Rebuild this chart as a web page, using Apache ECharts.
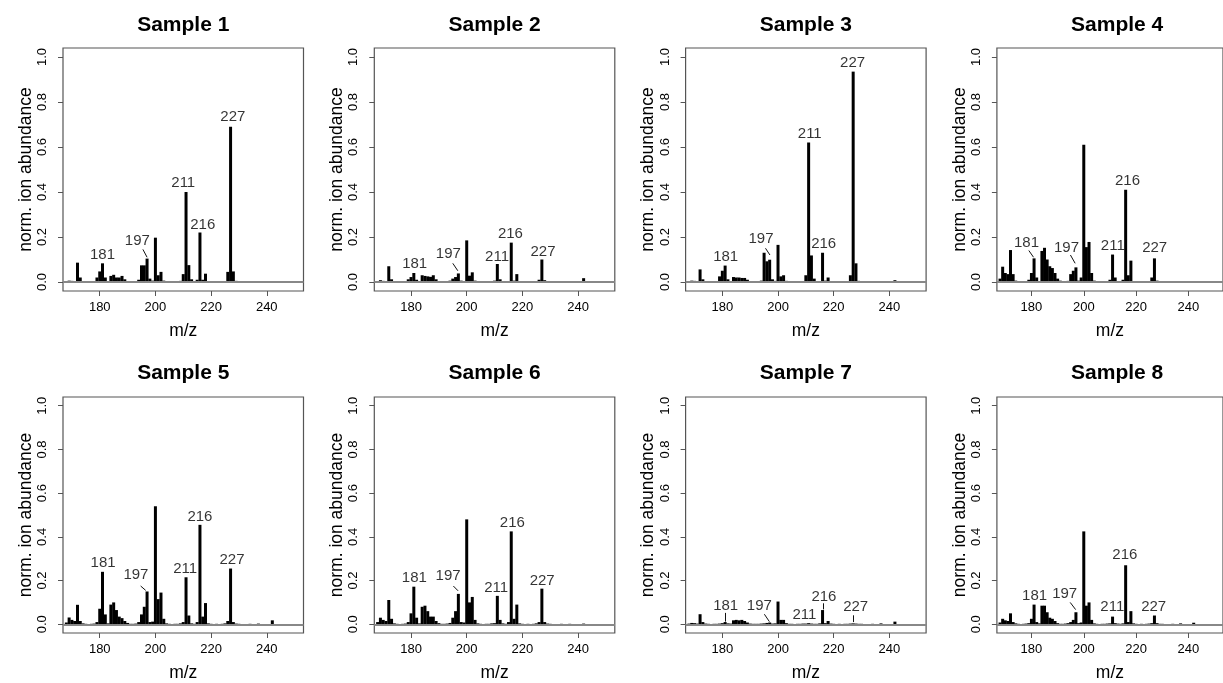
<!DOCTYPE html>
<html><head><meta charset="utf-8">
<script src="https://cdn.jsdelivr.net/npm/echarts@6/dist/echarts.min.js"></script>
<style>html,body{margin:0;padding:0;background:#fff}#c{width:1223px;height:683px}</style>
</head><body><div id="c"></div>
<script>
// m/z values (integer masses)
const mz = [168,169,170,171,172,173,174,175,176,177,
            178,179,180,181,182,183,184,185,186,187,
            188,189,190,191,192,193,194,195,196,197,
            198,199,200,201,202,203,204,205,206,207,
            208,209,210,211,212,213,214,215,216,217,
            218,219,220,221,222,223,224,225,226,227,
            228,229,230,231,232,233,234,235,236,237,
            238,239,240,241,242,243];

const sample1 = [0.004,0.006,0.005,0.003,0.086,0.02,0.003,0.002,0,0.002,
  0.003,0.02,0.047,0.083,0.02,0.004,0.027,0.032,0.02,0.02,
  0.027,0.012,0.004,0.002,0.002,0.003,0.01,0.074,0.074,0.104,
  0.015,0.006,0.197,0.03,0.045,0.006,0.002,0.002,0,0.002,
  0.003,0.005,0.035,0.40,0.075,0.012,0.003,0.01,0.22,0.01,
  0.037,0.004,0.002,0,0.002,0,0.003,0.004,0.045,0.69,
  0.047,0.005,0.002,0,0,0,0.002,0,0,0.003,
  0,0,0,0,0.004,0];
const sample2 = [0.003,0.008,0.005,0.004,0.07,0.012,0.003,0.002,0,0.002,
  0.003,0.012,0.022,0.04,0.01,0.003,0.03,0.027,0.025,0.023,
  0.03,0.012,0.004,0.002,0.002,0.003,0.006,0.015,0.022,0.038,
  0.006,0.004,0.185,0.028,0.043,0.006,0.002,0.002,0,0.002,
  0.002,0.003,0.006,0.08,0.012,0.003,0.002,0.004,0.175,0.006,
  0.035,0.004,0.002,0,0.002,0,0.002,0.003,0.01,0.10,
  0.008,0.003,0.002,0,0,0,0.002,0,0,0.003,
  0,0.002,0,0,0.017,0.002];
const sample3 = [0.003,0.006,0.005,0.004,0.056,0.012,0.003,0.002,0,0.002,
  0.003,0.025,0.05,0.073,0.012,0.003,0.022,0.02,0.02,0.018,
  0.018,0.01,0.004,0.002,0.002,0.003,0.006,0.13,0.092,0.099,
  0.012,0.005,0.165,0.025,0.03,0.005,0.002,0.002,0,0.002,
  0.002,0.004,0.03,0.62,0.118,0.015,0.003,0.004,0.13,0.006,
  0.02,0.004,0.002,0,0.002,0,0.002,0.004,0.03,0.935,
  0.083,0.005,0.002,0,0,0,0.002,0,0,0.003,
  0,0,0,0,0.008,0];
const sample4 = [0.015,0.068,0.04,0.035,0.142,0.035,0.006,0.002,0,0.002,
  0.003,0.01,0.04,0.105,0.02,0.004,0.138,0.152,0.10,0.07,
  0.062,0.04,0.015,0.006,0.002,0.003,0.005,0.035,0.05,0.065,
  0.006,0.02,0.61,0.155,0.178,0.04,0.006,0.002,0,0.002,
  0.002,0.004,0.01,0.122,0.02,0.004,0.002,0.01,0.41,0.03,
  0.095,0.004,0.002,0,0.002,0,0.002,0.004,0.02,0.105,
  0.006,0.003,0.002,0,0,0,0.002,0,0,0.003,
  0,0,0,0,0.003,0];
const sample5 = [0.008,0.031,0.02,0.015,0.089,0.015,0.004,0.002,0,0.002,
  0.003,0.01,0.071,0.24,0.045,0.004,0.09,0.10,0.065,0.035,
  0.028,0.015,0.006,0.002,0.002,0.003,0.01,0.045,0.08,0.15,
  0.01,0.012,0.54,0.115,0.145,0.025,0.004,0.002,0,0.002,
  0.002,0.004,0.01,0.215,0.04,0.004,0.002,0.01,0.455,0.035,
  0.097,0.004,0.002,0,0.002,0,0.002,0.004,0.015,0.255,
  0.01,0.003,0.002,0,0,0,0.002,0,0,0.003,
  0,0,0,0,0.018,0];
const sample6 = [0.01,0.03,0.02,0.015,0.111,0.025,0.004,0.002,0,0.002,
  0.003,0.01,0.05,0.172,0.03,0.004,0.08,0.085,0.06,0.035,
  0.035,0.015,0.005,0.002,0.002,0.003,0.006,0.03,0.06,0.139,
  0.01,0.008,0.48,0.10,0.125,0.02,0.004,0.002,0,0.002,
  0.002,0.004,0.005,0.13,0.02,0.004,0.002,0.01,0.425,0.025,
  0.09,0.004,0.002,0,0.002,0,0.002,0.004,0.01,0.163,
  0.01,0.003,0.002,0,0,0,0.002,0,0,0.002,
  0,0,0,0,0.003,0];
const sample7 = [0.003,0.006,0.005,0.003,0.046,0.01,0.003,0.002,0,0.002,
  0.002,0.003,0.005,0.01,0.004,0.003,0.018,0.02,0.018,0.02,
  0.015,0.008,0.003,0.002,0.002,0.002,0.003,0.004,0.006,0.008,
  0.003,0.004,0.104,0.02,0.02,0.005,0.002,0.002,0,0.002,
  0.002,0.003,0.003,0.005,0.003,0.002,0.002,0.004,0.065,0.005,
  0.015,0.003,0.002,0,0.002,0,0.002,0.002,0.003,0.004,
  0.003,0.002,0.002,0,0,0,0.002,0,0,0.004,
  0,0,0,0,0.012,0];
const sample8 = [0.008,0.025,0.018,0.015,0.05,0.01,0.004,0.002,0,0.002,
  0.003,0.005,0.025,0.09,0.01,0.004,0.085,0.085,0.055,0.03,
  0.025,0.015,0.005,0.002,0.002,0.003,0.005,0.01,0.02,0.055,
  0.005,0.008,0.425,0.085,0.10,0.02,0.004,0.002,0,0.002,
  0.002,0.003,0.004,0.035,0.005,0.003,0.002,0.004,0.27,0.01,
  0.06,0.004,0.002,0,0.002,0,0.002,0.003,0.005,0.04,
  0.005,0.002,0.002,0,0,0,0.002,0,0,0.004,
  0,0,0,0,0.007,0];

const sampleNames = ['Sample 1','Sample 2','Sample 3','Sample 4','Sample 5','Sample 6','Sample 7','Sample 8'];
const peakNames = ['181','197','211','216','227'];

// label anchor points (data units: m/z, abundance) for the five annotated peaks
const labels1 = [[181,0.12],[193.5,0.185],[210,0.442],[217,0.254],[227.8,0.733]];
const labels2 = [[181.3,0.079],[193.4,0.123],[210.9,0.113],[215.7,0.212],[227.4,0.135]];
const labels3 = [[181.2,0.113],[193.9,0.19],[211.4,0.659],[216.4,0.168],[226.8,0.973]];
const labels4 = [[178.1,0.175],[193.4,0.15],[211.1,0.162],[216.7,0.45],[227.1,0.15]];
const labels5 = [[181.2,0.28],[193,0.228],[210.7,0.252],[216,0.493],[227.5,0.293]];
const labels6 = [[181.2,0.212],[193.3,0.222],[210.6,0.167],[216.4,0.464],[227.1,0.2]];
const labels7 = [[181.2,0.086],[193.3,0.086],[209.5,0.044],[216.5,0.126],[227.9,0.079]];
const labels8 = [[181.2,0.13],[192.7,0.138],[210.9,0.079],[215.7,0.316],[226.7,0.079]];

// leader segments [x1,y1,x2,y2] in data units
const leaders1 = [[195.5,0.145,197,0.11]];
const leaders2 = [[195,0.083,196.8,0.05]];
const leaders3 = [[195.5,0.15,197.1,0.12]];
const leaders4 = [[179,0.14,180.8,0.11],[194.9,0.12,196.7,0.083]];
const leaders5 = [[194.7,0.175,196.5,0.155]];
const leaders6 = [[195.2,0.175,196.9,0.153]];
const leaders7 = [[181,0.052,181,0.012],[195.1,0.046,196.9,0.012],[216.1,0.096,216.1,0.068],[227,0.041,227,0.01]];
const leaders8 = [[194.8,0.10,196.9,0.067]];

const xTicks = [180,200,220,240];
const yTicks = [0,0.2,0.4,0.6,0.8,1.0];

const samples = [sample1,sample2,sample3,sample4,sample5,sample6,sample7,sample8];
const labelSets = [labels1,labels2,labels3,labels4,labels5,labels6,labels7,labels8];
const leaderSets = [leaders1,leaders2,leaders3,leaders4,leaders5,leaders6,leaders7,leaders8];

const FONT = "'Liberation Sans', Arial, Helvetica, sans-serif";
const colLeft = [63, 374.3, 685.6, 996.9];
const rowTop = [48, 397];
const W = 240.5, H = 243;
const TXT = '#000', BOX = '#555';

const grid = [], xAxis = [], yAxis = [], series = [], graphic = [];
for (let i = 0; i < 8; i++) {
  const r = Math.floor(i / 4), c = i % 4;
  grid.push({left: colLeft[c], top: rowTop[r], width: W, height: H, show: true,
    borderColor: BOX, borderWidth: 1.2, backgroundColor: 'transparent'});
  xAxis.push({type: 'value', gridIndex: i, min: 166.8, max: 253.2,
    splitLine: {show: false},
    axisLine: {show: false, onZero: false},
    axisTick: {show: true, length: 5, lineStyle: {color: BOX}, customValues: xTicks},
    axisLabel: {customValues: xTicks, fontSize: 13, color: TXT, margin: 10, fontFamily: FONT},
    name: 'm/z', nameLocation: 'middle', nameGap: 31,
    nameTextStyle: {fontSize: 17.5, color: TXT, fontFamily: FONT}});
  yAxis.push({type: 'value', gridIndex: i, min: -0.04, max: 1.04,
    splitLine: {show: false},
    axisLine: {show: false, onZero: false},
    axisTick: {show: true, length: 5, lineStyle: {color: BOX}, customValues: yTicks},
    axisLabel: {customValues: yTicks, rotate: 90, fontSize: 13, color: TXT, margin: 14,
      fontFamily: FONT, formatter: v => Number(v).toFixed(1)},
    name: 'norm. ion abundance', nameLocation: 'middle', nameRotate: 90, nameGap: 28,
    nameTextStyle: {fontSize: 17.5, color: TXT, fontFamily: FONT}});
  series.push({type: 'bar', xAxisIndex: i, yAxisIndex: i, barWidth: 3,
    data: samples[i].map((v, k) => [mz[k], v]),
    itemStyle: {color: '#000'}, silent: true, animation: false,
    markLine: {silent: true, symbol: 'none', animation: false, label: {show: false},
      lineStyle: {color: '#888', width: 2, type: 'solid'}, data: [{yAxis: 0}]}});
  series.push({type: 'scatter', xAxisIndex: i, yAxisIndex: i, symbolSize: 0.1,
    itemStyle: {color: 'rgba(0,0,0,0)'}, silent: true, animation: false,
    data: labelSets[i].map((p, k) => [p[0], p[1], peakNames[k]]),
    label: {show: true, position: 'inside', formatter: p => p.value[2],
      fontSize: 15, color: TXT, fontFamily: FONT}});
  series.push({type: 'lines', coordinateSystem: 'cartesian2d', xAxisIndex: i, yAxisIndex: i,
    silent: true, animation: false, symbol: 'none',
    lineStyle: {color: '#111', width: 1, opacity: 1},
    data: leaderSets[i].map(l => ({coords: [[l[0], l[1]], [l[2], l[3]]]}))});
  graphic.push({type: 'text', x: colLeft[c] + W / 2, y: r === 0 ? 25 : 373,
    style: {text: sampleNames[i], fontSize: 21, fontWeight: 'bold', fontFamily: FONT,
      fill: '#000', align: 'center', verticalAlign: 'middle'}});
}

const chart = echarts.init(document.getElementById('c'), null, {renderer: 'canvas'});
chart.setOption({animation: false, backgroundColor: '#fff', grid, xAxis, yAxis, series, graphic});
</script>
</body></html>
